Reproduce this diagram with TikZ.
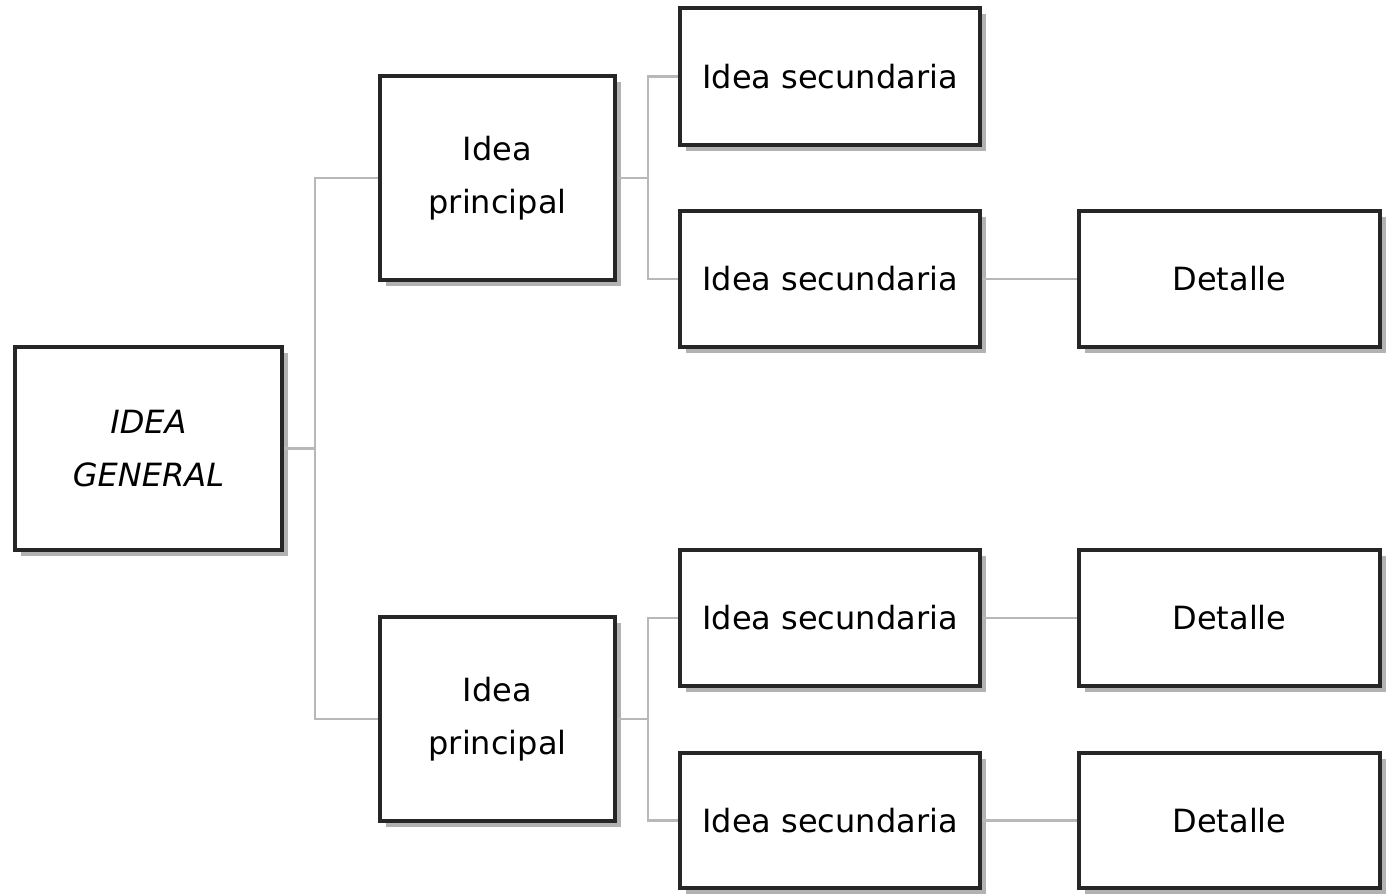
\documentclass[tikz,border=0pt]{standalone}
\usepackage{fontspec}
\setmainfont{DejaVu Sans}
\usetikzlibrary{shadows,calc}
\tikzset{
  box/.style={draw=black!85, line width=3.6pt, fill=white, align=center, inner sep=0pt,
    font=\fontsize{32}{53}\selectfont,
    drop shadow={shadow xshift=6pt, shadow yshift=-6pt, fill=black, opacity=0.3}},
  conn/.style={draw=black!28, line width=2.6pt}
}
\begin{document}
\begin{tikzpicture}[x=1pt,y=-1pt]
\useasboundingbox (0,0) rectangle (1389,896);
% nodes
\node[box, minimum width=267pt, minimum height=203pt, font=\fontsize{32}{53}\selectfont\itshape] (gen) at (148.5,448.5) {IDEA\\GENERAL};
\node[box, minimum width=235pt, minimum height=204pt] (p1) at (497.5,178) {Idea\\principal};
\node[box, minimum width=235pt, minimum height=204pt] (p2) at (497.5,719) {Idea\\principal};
\node[box, minimum width=300pt, minimum height=137pt] (s1) at (830,76.5) {Idea secundaria};
\node[box, minimum width=300pt, minimum height=136pt] (s2) at (830,279) {Idea secundaria};
\node[box, minimum width=300pt, minimum height=136pt] (s3) at (830,618) {Idea secundaria};
\node[box, minimum width=300pt, minimum height=135pt] (s4) at (830,820.5) {Idea secundaria};
\node[box, minimum width=301pt, minimum height=136pt] (d1) at (1229.5,279) {Detalle};
\node[box, minimum width=301pt, minimum height=136pt] (d2) at (1229.5,618) {Detalle};
\node[box, minimum width=301pt, minimum height=135pt] (d3) at (1229.5,820.5) {Detalle};
% junctions
\coordinate (j0) at (315,448.5);
\coordinate (j1) at (648,178);
\coordinate (j2) at (648,719);
% connectors
\draw[conn] (gen.east) -- (j0);
\draw[conn] (j0) |- (p1.west);
\draw[conn] (j0) |- (p2.west);
\draw[conn] (p1.east) -- (j1);
\draw[conn] (j1) |- (s1.west);
\draw[conn] (j1) |- (s2.west);
\draw[conn] (p2.east) -- (j2);
\draw[conn] (j2) |- (s3.west);
\draw[conn] (j2) |- (s4.west);
\draw[conn] (s2.east) -- (d1.west);
\draw[conn] (s3.east) -- (d2.west);
\draw[conn] (s4.east) -- (d3.west);
\end{tikzpicture}
\end{document}
